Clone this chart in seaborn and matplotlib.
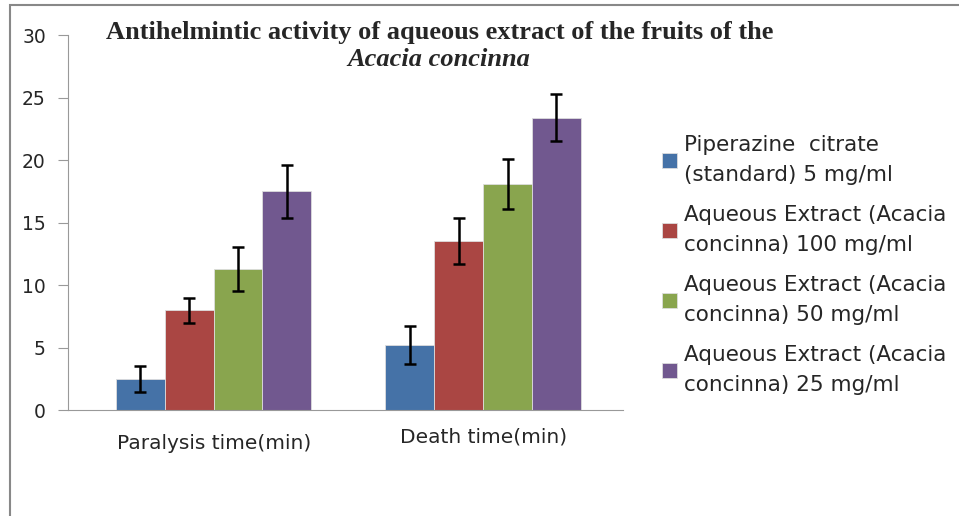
import matplotlib
matplotlib.use("Agg")
import matplotlib.pyplot as plt
import matplotlib.transforms as mtransforms
import seaborn as sb
import pandas as pd
import numpy as np
from matplotlib.patches import Rectangle

categories = ["Paralysis time(min)", "Death time(min)"]
groups = ["Piperazine  citrate\n(standard) 5 mg/ml",
          "Aqueous Extract (Acacia\nconcinna) 100 mg/ml",
          "Aqueous Extract (Acacia\nconcinna) 50 mg/ml",
          "Aqueous Extract (Acacia\nconcinna) 25 mg/ml"]
paralysis = [2.5, 8.0, 11.3, 17.5]
death = [5.2, 13.5, 18.1, 23.4]
paralysis_err = [1.05, 1.0, 1.75, 2.1]
death_err = [1.55, 1.85, 2.0, 1.9]
colors = ["#4572A7", "#AA4643", "#89A54E", "#71588F"]

df = pd.DataFrame({
    "cat": [categories[0]] * 4 + [categories[1]] * 4,
    "grp": groups + groups,
    "val": paralysis + death,
    "err": paralysis_err + death_err,
})

sb.set_style("white")
plt.rcParams['font.family'] = ['DejaVu Sans']

fig = plt.figure(figsize=(9.59, 5.16), dpi=100)
ax = fig.add_axes([0.071, 0.2054, 0.579, 0.7266])

sb.barplot(data=df, x="cat", y="val", hue="grp", hue_order=groups,
           palette=colors, width=0.725, errorbar=None, saturation=1,
           edgecolor="#dddddd", linewidth=0.6, ax=ax)

# error bars at bar centres, in hue order
for i, g in enumerate(groups):
    bars = ax.containers[i]
    sub = df[df["grp"] == g]
    xs = [b.get_x() + b.get_width() / 2 for b in bars]
    ax.errorbar(xs, sub["val"], yerr=sub["err"], fmt="none",
                ecolor="black", elinewidth=1.8, capsize=4.5, capthick=1.8)

ax.set_ylim(0, 30)
ax.set_yticks(range(0, 31, 5))
ax.set_xlim(-0.54, 1.52)
ax.set_xlabel("")
ax.set_ylabel("")
for s in ["top", "right"]:
    ax.spines[s].set_visible(False)
for s in ["left", "bottom"]:
    ax.spines[s].set_color("#999999")
ax.tick_params(axis="y", left=True, length=7, color="#999999", labelsize=13.5, pad=9)
ax.tick_params(axis="x", bottom=False, labelsize=14.5, pad=14)
ax.set_xticks([0, 1])
ax.set_xticklabels(categories)
# the second category label sits a little higher in the original
lab = ax.get_xticklabels()[1]
lab.set_transform(lab.get_transform() +
                  mtransforms.ScaledTranslation(0, 0.07, fig.dpi_scale_trans))

leg = ax.legend(loc="upper left", bbox_to_anchor=(1.035, 0.785), frameon=False,
                fontsize=15.5, handlelength=0.7, handleheight=0.7,
                handletextpad=0.3, labelspacing=0.95)
for t in leg.get_texts():
    t.set_linespacing(1.6)

fig.text(0.458, 0.937, "Antihelmintic activity of aqueous extract of the fruits of the",
         ha="center", va="center", fontsize=19, fontweight="bold",
         family="Liberation Serif")
fig.text(0.458, 0.885, "Acacia concinna", ha="center", va="center", fontsize=19,
         fontweight="bold", fontstyle="italic", family="Liberation Serif")

fig.patches.append(Rectangle((0.0105, -0.1), 1.2, 1.09, transform=fig.transFigure,
                             fill=False, edgecolor="#888888", linewidth=1.5))

fig.savefig("out.png", dpi=100)
